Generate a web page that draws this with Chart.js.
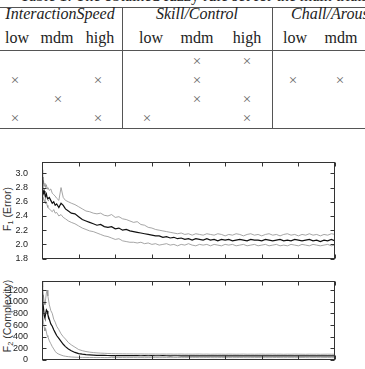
<!DOCTYPE html>
<html>
<head>
<meta charset="utf-8">
<script src="https://cdn.jsdelivr.net/npm/chart.js@4.4.1/dist/chart.umd.min.js"></script>
<style>
html,body{margin:0;padding:0;background:#fff;}
body{width:365px;height:369px;overflow:hidden;position:relative;}
.t{position:absolute;font-family:"Liberation Serif","DejaVu Serif",serif;font-size:16px;line-height:16px;color:#222;white-space:nowrap;}
.c{transform:translateX(-50%);}
.it{font-style:italic;}
.x{position:absolute;font-family:"Liberation Serif","DejaVu Serif",serif;font-size:15px;line-height:15px;color:#666;transform:translate(-50%,-50%);}
.hl{position:absolute;left:0;width:365px;height:1px;background:#555;}
.vl{position:absolute;top:7px;width:1px;height:122px;background:#555;}
.yt{position:absolute;left:0;top:0;transform-origin:0 0;font-family:"Liberation Sans",Arial,sans-serif;font-size:10.5px;line-height:10.5px;color:#333;white-space:nowrap;}
.yt sub{font-size:0.7em;position:relative;top:0.3em;vertical-align:baseline;line-height:0;}
canvas{position:absolute;left:0;}
</style>
</head>
<body>
<div class="t" style="left:20px;top:-12px;">Table 1: The obtained fuzzy rule set for the main trials.</div>
<div id="tbl"></div>
<div class="yt" style="transform:translate(11px,209px) rotate(-90deg) translate(-50%,-8.9px);">F<sub>1</sub> (Error)</div>
<div class="yt" style="transform:translate(11px,316px) rotate(-90deg) translate(-50%,-8.9px);">F<sub>2</sub> (Complexity)</div>
<canvas id="c1" width="365" height="120" style="top:150px;"></canvas>
<canvas id="c2" width="365" height="120" style="top:270px;"></canvas>
<script>
// ---- table content ----
const groupNames = ["InteractionSpeed", "Skill/Control", "Chall/Arousal"];
const levelNames = ["low", "mdm", "high", "low", "mdm", "high", "low", "mdm"];
const ruleMarks = [
  [0,0,0, 0,1,1, 0,0],
  [1,0,1, 0,1,0, 1,1],
  [0,1,0, 0,1,1, 0,0],
  [1,0,1, 1,0,1, 0,0]
];

// ---- chart data ----
const gens = [0,1,2,3,4,5,6,7,8,10,12,14,16,18,20,23,26,29,32,36,40,45,50,55,60,
65,70,75,80,85,90,95,100,105,110,115,120,125,130,135,140,145,150,155,160,165,170,175,180,185,190,195,200,
205,210,215,220,225,230,235,240,245,250,255,260,265,270,275,280,285,290,295,300,
305,310,315,320,325,330,335,340,345,350,355,360,365,370,375,380,385,390,395,400];

const errMean = [2.95,2.78,2.72,2.75,2.70,2.68,2.71,2.66,2.64,2.66,2.62,2.58,2.60,2.55,2.57,2.52,2.58,2.55,2.50,2.47,2.44,2.43,2.39,2.35,2.33,
2.31,2.29,2.27,2.28,2.25,2.24,2.25,2.22,2.23,2.20,2.21,2.19,2.18,2.17,2.16,2.15,2.14,2.13,2.12,2.12,2.10,2.11,2.09,2.10,2.08,2.09,2.07,2.08,
2.06,2.08,2.07,2.06,2.08,2.06,2.07,2.05,2.07,2.06,2.07,2.05,2.06,2.07,2.06,2.05,2.07,2.06,2.06,2.05,
2.07,2.06,2.05,2.06,2.07,2.05,2.06,2.05,2.07,2.06,2.05,2.06,2.07,2.05,2.06,2.04,2.06,2.05,2.07,2.05];
const errHi = [3.05,2.85,2.90,2.82,2.86,2.80,2.84,2.78,2.80,2.76,2.78,2.72,2.70,2.68,2.65,2.62,2.80,2.66,2.62,2.60,2.58,2.56,2.53,2.50,2.47,
2.46,2.44,2.43,2.44,2.41,2.40,2.42,2.38,2.39,2.36,2.35,2.33,2.31,2.32,2.28,2.27,2.24,2.23,2.21,2.20,2.19,2.18,2.17,2.16,2.15,2.16,2.14,2.15,
2.13,2.15,2.14,2.13,2.15,2.14,2.13,2.15,2.14,2.12,2.14,2.13,2.15,2.14,2.12,2.14,2.15,2.13,2.14,2.12,
2.14,2.15,2.13,2.14,2.12,2.14,2.15,2.13,2.14,2.12,2.14,2.13,2.15,2.13,2.14,2.12,2.14,2.13,2.15,2.14];
const errLo = [2.70,2.62,2.66,2.60,2.63,2.57,2.60,2.55,2.52,2.50,2.48,2.46,2.49,2.44,2.45,2.40,2.42,2.38,2.36,2.33,2.31,2.29,2.26,2.23,2.21,
2.19,2.18,2.16,2.14,2.12,2.11,2.09,2.07,2.08,2.05,2.04,2.03,2.03,2.02,2.03,2.01,2.02,2.00,2.01,1.99,2.00,2.01,1.99,2.00,1.98,2.00,1.99,2.01,
1.99,1.98,2.00,1.99,2.00,1.98,2.00,1.99,1.98,2.00,1.99,2.00,1.98,1.99,2.00,1.98,1.99,2.00,1.98,1.99,
2.00,1.98,1.99,2.00,1.98,1.99,1.98,2.00,1.99,1.98,2.00,1.99,1.98,2.00,1.99,1.98,1.99,2.00,1.98,1.99];

const cxMean = [1120,1000,900,760,720,800,860,840,780,700,620,580,520,470,420,370,320,270,230,190,160,130,110,100,92,
88,84,81,79,78,77,76,76,75,75,74,75,74,74,73,74,73,74,73,73,74,73,72,73,73,72,73,72,
73,72,73,72,73,72,71,72,73,72,71,72,72,71,72,73,72,71,72,72,
72,71,72,73,72,71,72,72,71,72,73,72,71,72,72,71,72,73,72,71];
const cxHi = [1340,1250,1100,1000,950,1050,1150,1200,1100,950,850,800,700,650,580,520,450,400,360,300,260,220,180,160,145,
135,128,122,118,115,112,110,108,107,106,105,105,104,103,104,103,102,103,102,101,102,101,102,100,101,102,100,101,
100,101,102,100,101,99,100,101,100,99,101,100,99,100,101,99,100,99,100,101,
99,100,101,99,100,98,100,99,101,100,99,98,100,99,100,98,99,100,99,98];
const cxLo = [900,780,650,560,500,540,480,420,400,330,280,230,190,150,120,100,85,72,64,57,52,48,46,45,44,
43,43,42,43,42,42,43,41,42,42,41,42,42,41,42,41,42,41,42,41,41,42,41,41,42,41,41,42,
41,42,41,41,42,41,40,41,42,41,41,40,41,42,41,40,41,41,42,41,
41,40,41,42,41,40,41,41,40,41,42,41,40,41,41,40,41,42,41,40];

const xTicks = [0,50,100,150,200,250,300,350,400];
const errTicks = [1.8,2.0,2.2,2.4,2.6,2.8,3.0];
const cxTicks = [0,200,400,600,800,1000,1200];

// ---- table rendering ----
(function(){
  const tbl = document.getElementById('tbl');
  const add = (html) => tbl.insertAdjacentHTML('beforeend', html);
  add('<div class="hl" style="top:7px"></div>');
  add('<div class="hl" style="top:50px"></div>');
  add('<div class="hl" style="top:128px"></div>');
  add('<div class="vl" style="left:122px"></div>');
  add('<div class="vl" style="left:272px"></div>');
  add('<div class="t it c" style="left:60px;top:6px">' + groupNames[0] + '</div>');
  add('<div class="t it c" style="left:197px;top:6px">' + groupNames[1] + '</div>');
  add('<div class="t it" style="left:291px;top:6px">' + groupNames[2] + '</div>');
  const levelX = [17,57,100,151,197,247,295,341];
  levelNames.forEach((n,i) => add('<div class="t c" style="left:' + levelX[i] + 'px;top:30px">' + n + '</div>'));
  const markX = [15,58,98,147,197,247,293,340];
  const rowY = [61,80,99,118];
  ruleMarks.forEach((row,r) => row.forEach((m,i) => {
    if (m) add('<div class="x" style="left:' + markX[i] + 'px;top:' + rowY[r] + 'px">\u00d7</div>');
  }));
})();

// ---- charts ----
const framePlugin = {
  id: 'frame',
  afterDraw(chart, args, opts) {
    const ctx = chart.ctx, a = chart.chartArea;
    const xs = chart.scales.x, ys = chart.scales.y;
    const L = Math.round(a.left) + 0.5, R = Math.round(a.right) - 0.5;
    const T = Math.round(a.top) + 0.5, B = Math.round(a.bottom) - 0.5;
    ctx.save();
    ctx.strokeStyle = '#333';
    ctx.lineWidth = 1;
    ctx.strokeRect(L, T, R - L, B - T);
    ctx.beginPath();
    const tl = 4;
    xTicks.forEach(v => {
      const px = Math.round(xs.getPixelForValue(v)) + 0.5;
      ctx.moveTo(px, B); ctx.lineTo(px, B - tl);
      ctx.moveTo(px, T); ctx.lineTo(px, T + tl);
    });
    opts.yTicks.forEach(v => {
      const py = Math.round(ys.getPixelForValue(v)) + 0.5;
      ctx.moveTo(L, py); ctx.lineTo(L + tl, py);
      ctx.moveTo(R, py); ctx.lineTo(R - tl, py);
    });
    ctx.stroke();
    ctx.restore();
  }
};

function series(vals, color, width) {
  return {
    data: gens.map((g, i) => ({x: g, y: vals[i]})),
    borderColor: color, borderWidth: width, pointRadius: 0, tension: 0, fill: false
  };
}

const tickFont = {family: '"Liberation Sans", Arial, sans-serif', size: 9};

function makeChart(id, mean, hi, lo, yMin, yMax, yTicks, fmt, pad, showX) {
  return new Chart(document.getElementById(id), {
    type: 'line',
    data: {datasets: [series(mean, '#111', 1.2), series(hi, '#8f8f8f', 0.8), series(lo, '#8f8f8f', 0.8)]},
    options: {
      responsive: false, animation: false, devicePixelRatio: 1,
      layout: {padding: pad},
      plugins: {legend: {display: false}, tooltip: {enabled: false}, frame: {yTicks: yTicks}},
      scales: {
        x: {
          type: 'linear', min: 0, max: 400,
          grid: {display: false}, border: {display: false},
          ticks: {display: showX, font: tickFont, color: '#222', padding: 6, autoSkip: false, maxRotation: 0},
          afterBuildTicks(s) { s.ticks = xTicks.map(v => ({value: v})); },
          afterFit(s) { s.height = showX ? 30 : 0; }
        },
        y: {
          type: 'linear', min: yMin, max: yMax,
          grid: {display: false}, border: {display: false},
          ticks: {font: tickFont, color: '#222', padding: 6, autoSkip: false, callback: fmt},
          afterBuildTicks(s) { s.ticks = yTicks.map(v => ({value: v})); },
          afterFit(s) { s.width = 42; }
        }
      }
    },
    plugins: [framePlugin]
  });
}

makeChart('c1', errMean, errHi, errLo, 1.8, 3.16, errTicks, v => Number(v).toFixed(1), {top: 12, right: 30, left: 0, bottom: 4}, false);
makeChart('c2', cxMean, cxHi, cxLo, 0, 1350, cxTicks, v => String(Math.round(v)), {top: 6, right: 30, left: 0, bottom: 0}, true);
</script>
</body>
</html>
